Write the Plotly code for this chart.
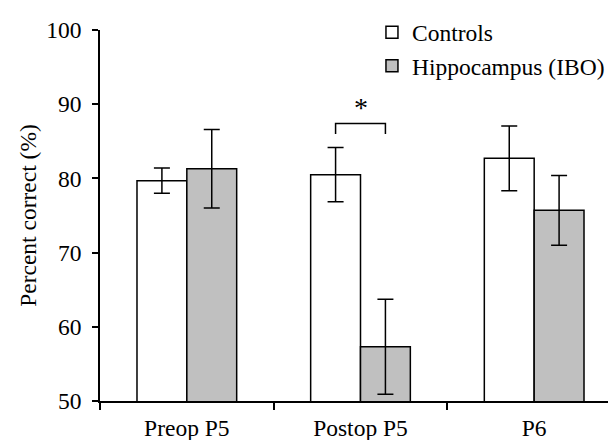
import plotly.graph_objects as go

categories = ["Preop P5", "Postop P5", "P6"]
controls = [79.7, 80.5, 82.7]
controls_err = [1.7, 3.65, 4.35]
hippo = [81.3, 57.3, 75.7]
hippo_err = [5.3, 6.4, 4.7]
series_names = ["Controls", "Hippocampus (IBO)"]
y_ticks = [50, 60, 70, 80, 90, 100]
bracket_top = 87.4
bracket_leg = 86.0
star_y = 89.6

FONT = "'Liberation Serif', 'Times New Roman', Times, serif"
fs = 23.5

fig = go.Figure()
fig.add_trace(go.Bar(
    x=categories, y=controls, name=series_names[0],
    marker=dict(color="white", line=dict(color="black", width=1.5)),
    error_y=dict(type="data", array=controls_err, color="black", thickness=1.5, width=8),
))
fig.add_trace(go.Bar(
    x=categories, y=hippo, name=series_names[1],
    marker=dict(color="#c0c0c0", line=dict(color="black", width=1.5)),
    error_y=dict(type="data", array=hippo_err, color="black", thickness=1.5, width=8),
))

# significance bracket between the Postop P5 bars
off = 0.1435
xc = 1
fig.add_shape(type="path", xref="x", yref="y",
              path=f"M {xc-off},{bracket_leg} L {xc-off},{bracket_top} L {xc+off},{bracket_top} L {xc+off},{bracket_leg}",
              line=dict(color="black", width=1.5))
fig.add_annotation(x=xc, y=star_y, xref="x", yref="y", text="*", showarrow=False,
                   font=dict(family=FONT, size=28, color="black"))

fig.update_layout(
    width=616, height=440,
    margin=dict(l=92, r=3, t=21, b=47),
    paper_bgcolor="white", plot_bgcolor="white",
    barmode="group", bargap=0.426, bargroupgap=0,
    font=dict(family=FONT, size=fs, color="black"),
    showlegend=True,
    legend=dict(x=0.522, y=1.05, xanchor="left", yanchor="top",
                bgcolor="rgba(0,0,0,0)", font=dict(family=FONT, size=23.5),
                tracegroupgap=0, itemwidth=30),
)
fig.update_xaxes(
    type="category", showline=True, linecolor="black", linewidth=1.5,
    ticks="outside", tickson="boundaries", ticklen=7, tickwidth=1.5, tickcolor="black",
    ticklabelstandoff=5, showgrid=False, zeroline=False,
    range=[-0.5, 2.5],
)
fig.update_yaxes(
    range=[50, 100], tickvals=y_ticks, showline=True, linecolor="black", linewidth=1.5,
    ticks="outside", ticklen=6, tickwidth=1.5, tickcolor="black",
    ticklabelstandoff=6, showgrid=False, zeroline=False,
    title=dict(text="Percent correct (%)", font=dict(family=FONT, size=fs), standoff=3),
)

fig.write_html("out.html")
